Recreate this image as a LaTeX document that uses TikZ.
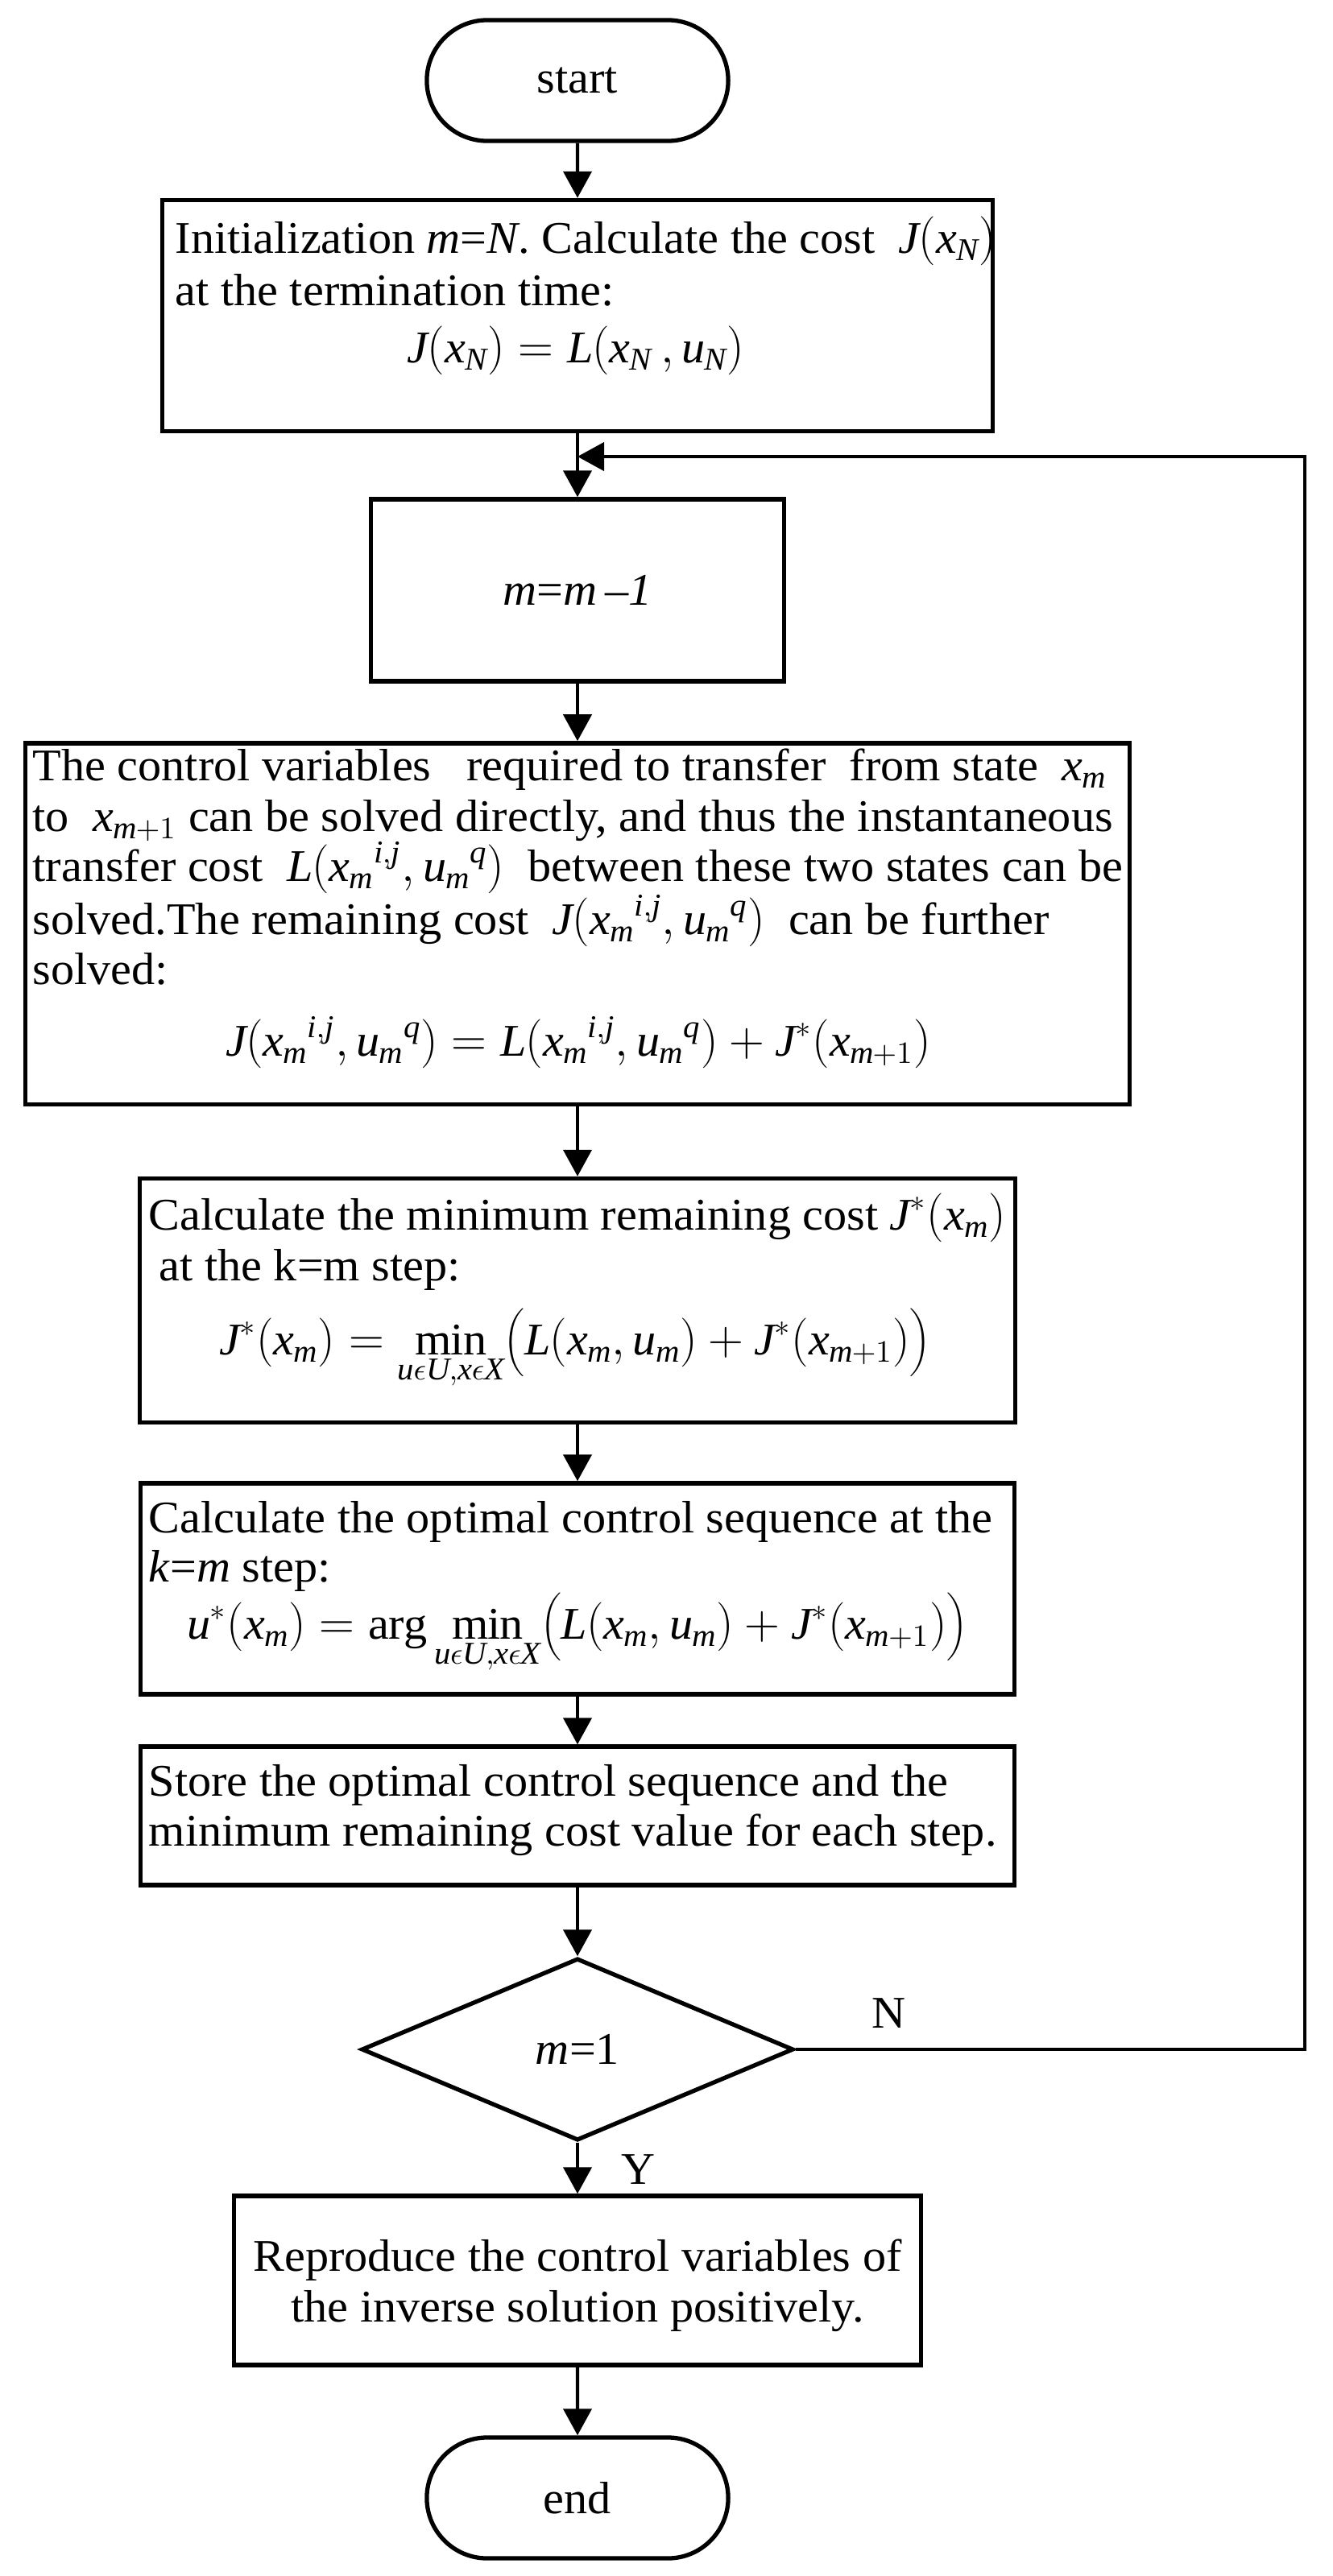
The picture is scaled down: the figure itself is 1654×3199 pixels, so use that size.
\documentclass[tikz,border=0pt]{standalone}
\usepackage{fontspec}
\setmainfont{Liberation Serif}[NFSSFamily=libser, FakeStretch=1.035]
\usetikzlibrary{arrows.meta,shapes.geometric,shapes.misc}
\DeclareSymbolFont{tletters}{TU}{libser}{m}{it}
\makeatletter
\count@=`a
\loop \Umathcode\count@="7 \symtletters \count@ \ifnum\count@<`z \advance\count@ 1 \repeat
\count@=`A
\loop \Umathcode\count@="7 \symtletters \count@ \ifnum\count@<`Z \advance\count@ 1 \repeat
\makeatother
\newcommand\myfs{\fontsize{16pt}{18pt}\selectfont}
\tikzset{
  box/.style={draw, line width=1.5pt, rectangle, inner sep=0pt},
  term/.style={draw, line width=1.5pt, rounded rectangle, inner sep=0pt,
    minimum width=3.74cm, minimum height=1.5cm, font=\myfs},
  dec/.style={draw, line width=1.5pt, diamond, inner sep=0pt,
    minimum width=5.36cm, minimum height=2.26cm, font=\myfs},
  conn/.style={line width=1.2pt, -{Triangle[length=3.3mm,width=3.5mm]}},
  txt/.style={inner sep=0pt, font=\myfs, anchor=base west},
  ctxt/.style={inner sep=0pt, font=\myfs, anchor=base},
}
\begin{document}
\begin{tikzpicture}[x=0.01cm, y=-0.01cm]
\useasboundingbox (0,0) rectangle (1654,3199);
% shapes
\node[term] (start) at (717,100) {start};
\node[box, minimum width=10.31cm, minimum height=2.87cm] (b1) at (717,392) {};
\node[box, minimum width=5.12cm, minimum height=2.26cm, font=\myfs] (b2) at (717,733) {\textit{m}=\textit{m}\,\textit{–1}};
\node[box, minimum width=13.70cm, minimum height=4.48cm] (b3) at (717,1147) {};
\node[box, minimum width=10.86cm, minimum height=3.03cm] (b4) at (717,1615) {};
\node[box, minimum width=10.84cm, minimum height=2.62cm] (b5) at (717,1973) {};
\node[box, minimum width=10.84cm, minimum height=1.72cm] (b6) at (717,2255) {};
\node[dec] (dia) at (717,2545) {\textit{m}=1};
\node[box, minimum width=8.52cm, minimum height=2.10cm] (b7) at (717,2832) {};
\node[term] (stop) at (717,3102) {end};
% texts
\node[txt] (t1a) at (217,314) {Initialization \textit{m}=\textit{N}. Calculate the cost \ $J\Bigl(x_N\Bigr)$};
\node[txt] (t1b) at (217,379) {at the termination time:};
\node[ctxt] (t1c) at (715,450) {$J\Bigl(x_N\Bigr)=L\Bigl(x_N\,,u_N\Bigr)$};
\node[txt] (t3a) at (40,969) {The control variables \ \ required to transfer \ from state \ $x_m$};
\node[txt] (t3b) at (40,1032) {to \ $x_{m+1}$ can be solved directly, and thus the instantaneous};
\node[txt] (t3c) at (40,1094) {transfer cost \ $L\Bigl(x_m{}^{i,j},u_m{}^q\Bigr)$ \ between these two states can be};
\node[txt] (t3d) at (40,1160) {solved.The remaining cost \ $J\Bigl(x_m{}^{i,j},u_m{}^q\Bigr)$ \ can be further};
\node[txt] (t3e) at (40,1222) {solved:};
\node[ctxt] (t3f) at (718,1311) {$J\Bigl(x_m{}^{i,j},u_m{}^q\Bigr)=L\Bigl(x_m{}^{i,j},u_m{}^q\Bigr)+J^*\Bigl(x_{m+1}\Bigr)$};
\node[txt] (t4a) at (184,1527) {Calculate the minimum remaining cost $J^*\Bigl(x_m\Bigr)$};
\node[txt] (t4b) at (197,1590) {at the k=m step:};
\node[ctxt] (t4c) at (714,1682) {$J^*\Bigl(x_m\Bigr)=\min\limits_{u\epsilon U,x\epsilon X}\biggl(L\Bigl(x_m,u_m\Bigr)+J^*\Bigl(x_{m+1}\Bigr)\biggr)$};
\node[txt] (t5a) at (184,1903) {Calculate the optimal control sequence at the};
\node[txt] (t5b) at (184,1964) {\textit{k}=\textit{m} step:};
\node[ctxt] (t5c) at (717,2035) {$u^*\Bigl(x_m\Bigr)=\arg\min\limits_{u\epsilon U,x\epsilon X}\biggl(L\Bigl(x_m,u_m\Bigr)+J^*\Bigl(x_{m+1}\Bigr)\biggr)$};
\node[txt] (t6a) at (184,2230) {Store the optimal control sequence and the};
\node[txt] (t6b) at (184,2292) {minimum remaining cost value for each step.};
\node[ctxt] (t7a) at (717,2820) {Reproduce the control variables of};
\node[ctxt] (t7b) at (717,2883) {the inverse solution positively.};
\node[ctxt] (lN) at (1104,2518) {N};
\node[ctxt] (lY) at (793,2712) {Y};
% connectors
\coordinate (j) at (717,567);
\coordinate (rt) at (1620,567);
\draw[conn] (start) -- (b1);
\draw[conn] (b1) -- (b2);
\draw[conn] (b2) -- (b3);
\draw[conn] (b3) -- (b4);
\draw[conn] (b4) -- (b5);
\draw[conn] (b5) -- (b6);
\draw[conn] (b6) -- (dia);
\draw[conn] (dia) -- (b7);
\draw[conn] (b7) -- (stop);
\draw[conn] (dia.east) -| (rt) -- (j);
\end{tikzpicture}
\end{document}
